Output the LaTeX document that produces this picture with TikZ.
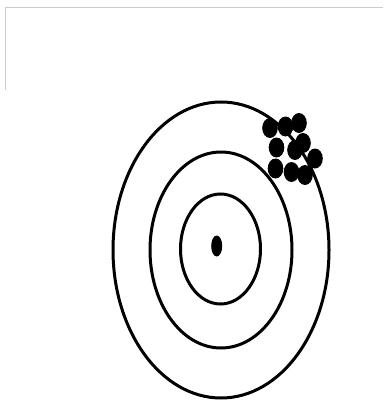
\documentclass[tikz,border=0pt]{standalone}
\begin{document}
\begin{tikzpicture}[x=1pt,y=-1pt,
  ring/.style={draw=black,line width=3pt},
  hole/.style={fill=black},
  frame/.style={draw=black!20,line width=0.8pt}]
\useasboundingbox (0,0) rectangle (383,404);
% faint frame
\coordinate (f1) at (5,90);
\coordinate (f2) at (5,7);
\coordinate (f3) at (383,7);
\draw[frame] (f1) -- (f2) -- (f3);
% rings
\draw[ring] (221,250) ellipse [x radius=108, y radius=148];
\draw[ring] (221,250) ellipse [x radius=71, y radius=98];
\draw[ring] (220.5,249) ellipse [x radius=40, y radius=55];
% centre dot
\fill[hole] (216.7,246) ellipse [x radius=5.5, y radius=10.5];
% shot cluster
\foreach \p in {(270,128),(285.5,126.5),(299,123),
                (276.5,147.5),(295,150),(303,143),(315,158.5),
                (275.5,168.5),(291.5,172),(305,175)}
  \fill[hole] \p ellipse [x radius=7.8, y radius=10];
\end{tikzpicture}
\end{document}
